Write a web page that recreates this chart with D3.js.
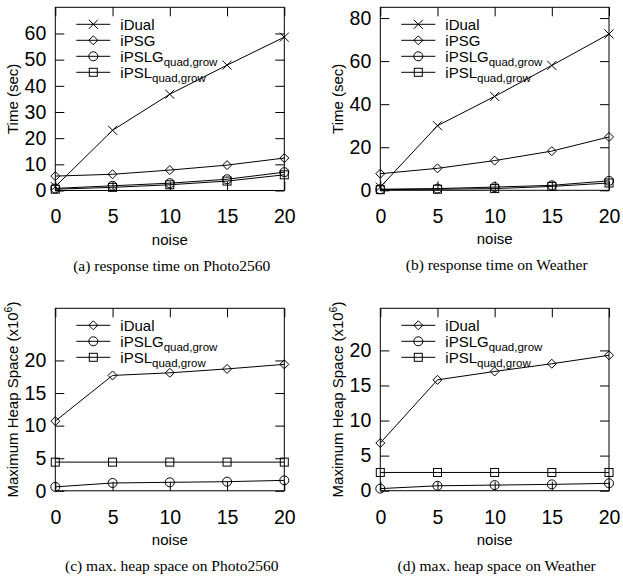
<!DOCTYPE html>
<html>
<head>
<meta charset="utf-8">
<script src="https://cdn.jsdelivr.net/npm/d3@7"></script>
<style>
  body { margin: 0; background: #fff; }
  text { font-family: "Liberation Sans", Arial, sans-serif; fill: #000; }
  .caption { font-family: "Liberation Serif", "Times New Roman", serif; }
</style>
</head>
<body>
<div id="graph"></div>
<script>
// x values (noise)
const noise = [0, 5, 10, 15, 20];

// (a) response time on Photo2560, seconds
const photoTimeDual = [1.5, 23, 36.8, 47.9, 58.6];
const photoTimePSG = [5.5, 6.2, 7.8, 9.7, 12.4];
const photoTimePSLG = [0.8, 1.8, 2.8, 4.3, 7.0];
const photoTimePSL = [0.5, 1.2, 2.2, 3.6, 6.0];

// (b) response time on Weather, seconds
const weatherTimeDual = [1.5, 30, 43.6, 58, 72.6];
const weatherTimePSG = [7.7, 10.2, 13.8, 18.2, 24.8];
const weatherTimePSLG = [0.5, 0.8, 1.5, 2.3, 4.4];
const weatherTimePSL = [0.3, 0.5, 0.8, 1.8, 3.4];

// (c) max. heap space on Photo2560, x10^6
const photoHeapDual = [10.7, 17.7, 18.1, 18.7, 19.4];
const photoHeapPSLG = [0.6, 1.2, 1.3, 1.4, 1.6];
const photoHeapPSL = [4.4, 4.4, 4.4, 4.4, 4.4];

// (d) max. heap space on Weather, x10^6
const weatherHeapDual = [6.8, 15.8, 17.0, 18.1, 19.3];
const weatherHeapPSLG = [0.3, 0.7, 0.8, 0.9, 1.05];
const weatherHeapPSL = [2.6, 2.6, 2.6, 2.6, 2.6];

// y ticks of each panel
const timePhotoTicks = [0, 10, 20, 30, 40, 50, 60];
const timeWeatherTicks = [0, 20, 40, 60, 80];
const heapTicks = [0, 5, 10, 15, 20];

const w = 623;
const h = 585;

const svg = d3.select("#graph")
  .append("svg")
  .attr("width", w)
  .attr("height", h);

// Panels
const panels = [
  { box: [55.3, 284.3, 7.3, 190.5], ymax: 70, ticks: timePhotoTicks,
    ylabel: "time", caption: "(a) response time on Photo2560",
    series: [
      { name: "iDual", values: photoTimeDual, mark: "cross" },
      { name: "iPSG", values: photoTimePSG, mark: "diamond" },
      { name: "iPSLG", sub: "quad,grow", values: photoTimePSLG, mark: "circle" },
      { name: "iPSL", sub: "quad,grow", values: photoTimePSL, mark: "square" }
    ] },
  { box: [380.3, 609, 7.3, 190.3], ymax: 85, ticks: timeWeatherTicks,
    ylabel: "time", caption: "(b) response time on Weather",
    series: [
      { name: "iDual", values: weatherTimeDual, mark: "cross" },
      { name: "iPSG", values: weatherTimePSG, mark: "diamond" },
      { name: "iPSLG", sub: "quad,grow", values: weatherTimePSLG, mark: "circle" },
      { name: "iPSL", sub: "quad,grow", values: weatherTimePSL, mark: "square" }
    ] },
  { box: [55.3, 284.3, 308.3, 490.8], ymax: 28, ticks: heapTicks,
    ylabel: "heap", caption: "(c) max. heap space on Photo2560",
    series: [
      { name: "iDual", values: photoHeapDual, mark: "diamond" },
      { name: "iPSLG", sub: "quad,grow", values: photoHeapPSLG, mark: "circle" },
      { name: "iPSL", sub: "quad,grow", values: photoHeapPSL, mark: "square" }
    ] },
  { box: [380.3, 609, 308.3, 490.7], ymax: 26, ticks: heapTicks,
    ylabel: "heap", caption: "(d) max. heap space on Weather",
    series: [
      { name: "iDual", values: weatherHeapDual, mark: "diamond" },
      { name: "iPSLG", sub: "quad,grow", values: weatherHeapPSLG, mark: "circle" },
      { name: "iPSL", sub: "quad,grow", values: weatherHeapPSL, mark: "square" }
    ] }
];

panels.forEach(drawPanel);

// draw one point marker
function drawMark(g, type, x, y) {
  const s = 4.5;
  if (type === "cross") {
    g.append("path").attr("d", `M${x - s},${y - s}L${x + s},${y + s}M${x - s},${y + s}L${x + s},${y - s}`);
  } else if (type === "diamond") {
    g.append("path").attr("d", `M${x},${y - s}L${x + s},${y}L${x},${y + s}L${x - s},${y}Z`);
  } else if (type === "circle") {
    g.append("circle").attr("cx", x).attr("cy", y).attr("r", s);
  } else {
    g.append("rect").attr("x", x - 4).attr("y", y - 4).attr("width", 8).attr("height", 8);
  }
}

function drawPanel(p) {
  const [x0, x1, y0, y1] = p.box;
  const xScale = d3.scaleLinear().domain([0, 20]).range([x0, x1]);
  const yScale = d3.scaleLinear().domain([0, p.ymax]).range([y1, y0]);
  const g = svg.append("g");

  // ticks (inward, mirrored)
  const tk = 9;
  const bottom = g.append("g").attr("transform", `translate(0,${y1})`)
    .call(d3.axisBottom(xScale).tickValues(noise).tickSize(-tk).tickPadding(19));
  const top = g.append("g").attr("transform", `translate(0,${y0})`)
    .call(d3.axisTop(xScale).tickValues(noise).tickSize(-tk).tickFormat(""));
  const left = g.append("g").attr("transform", `translate(${x0},0)`)
    .call(d3.axisLeft(yScale).tickValues(p.ticks).tickSize(-tk).tickPadding(9));
  const right = g.append("g").attr("transform", `translate(${x1},0)`)
    .call(d3.axisRight(yScale).tickValues(p.ticks).tickSize(-tk).tickFormat(""));
  [bottom, top, left, right].forEach((a) => {
    a.select(".domain").remove();
    a.selectAll("line").attr("stroke", "#000");
    a.selectAll("text").style("font-size", "19.5px").attr("fill", "#000");
  });

  // frame
  g.append("rect")
    .attr("x", x0).attr("y", y0)
    .attr("width", x1 - x0).attr("height", y1 - y0)
    .attr("fill", "none").attr("stroke", "#000").attr("stroke-width", 1);

  // series
  const line = d3.line().x((d, i) => xScale(noise[i])).y((d) => yScale(d));
  p.series.forEach((s) => {
    g.append("path").attr("d", line(s.values))
      .attr("fill", "none").attr("stroke", "#000").attr("stroke-width", 1);
    const mg = g.append("g").attr("fill", "none").attr("stroke", "#000");
    s.values.forEach((v, i) => drawMark(mg, s.mark, xScale(noise[i]), yScale(v)));
  });

  // legend
  p.series.forEach((s, i) => {
    const ly = y0 + 17 + i * 16;
    g.append("line").attr("x1", x0 + 21).attr("x2", x0 + 55)
      .attr("y1", ly).attr("y2", ly).attr("stroke", "#000");
    const mg = g.append("g").attr("fill", "none").attr("stroke", "#000");
    drawMark(mg, s.mark, x0 + 38, ly);
    const t = g.append("text").attr("x", x0 + 65).attr("y", ly + 5.5)
      .style("font-size", "15px").text(s.name);
    if (s.sub) {
      t.append("tspan").attr("dy", 4).style("font-size", "11.5px").text(s.sub);
    }
  });

  // axis labels
  const cy = (y0 + y1) / 2;
  const yl = g.append("text")
    .attr("transform", `translate(${x0 - 37},${cy}) rotate(-90)`)
    .attr("text-anchor", "middle").style("font-size", "15px");
  if (p.ylabel === "time") {
    yl.text("Time (sec)");
  } else {
    yl.text("Maximum Heap Space (x10");
    yl.append("tspan").attr("dy", -6).style("font-size", "10.5px").text("6");
    yl.append("tspan").attr("dy", 6).text(")");
  }
  g.append("text").attr("x", (x0 + x1) / 2).attr("y", y1 + 54)
    .attr("text-anchor", "middle").style("font-size", "15px").text("noise");

  // caption
  g.append("text").attr("class", "caption")
    .attr("x", (x0 + x1) / 2 + 2).attr("y", y1 + 80)
    .attr("text-anchor", "middle").style("font-size", "15.5px").text(p.caption);
}
</script>
</body>
</html>
